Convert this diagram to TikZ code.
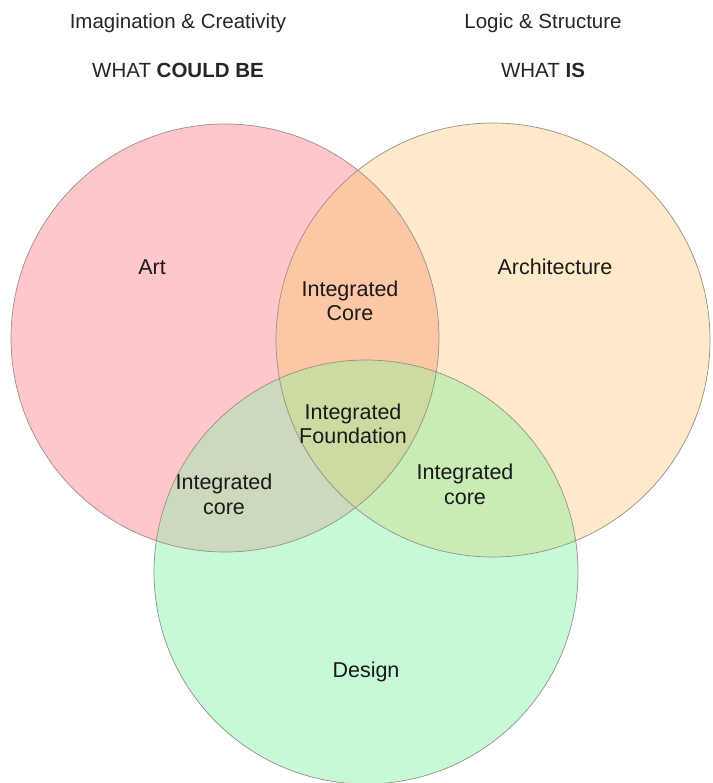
\documentclass[tikz,border=0pt]{standalone}
\usepackage{fontspec}
\setmainfont{Liberation Sans}
\definecolor{cred}{RGB}{255,198,204}
\definecolor{corange}{RGB}{254,234,202}
\definecolor{cgreen}{RGB}{198,250,214}
\definecolor{cro}{RGB}{253,198,165}
\definecolor{crg}{RGB}{205,217,188}
\definecolor{cog}{RGB}{200,236,180}
\definecolor{ccenter}{RGB}{205,219,162}
\definecolor{cline}{RGB}{150,145,135}
\begin{document}
\begin{tikzpicture}[x=1pt,y=-1pt,
  toptext/.style={font=\fontsize{20.5}{24}\selectfont, text=black!85, inner sep=0pt, anchor=base},
  setlabel/.style={font=\fontsize{21.5}{25}\selectfont, text=black!90, inner sep=0pt, anchor=base},
  lenslabel/.style={font=\fontsize{21.5}{24.5}\selectfont, text=black!90, inner sep=0pt, align=center, anchor=center},
  ring/.style={draw=cline, line width=0.7pt}]
\useasboundingbox (0,0) rectangle (712,783);
\fill[white] (0,0) rectangle (712,783);
% circle centres
\coordinate (cA) at (225,338);
\coordinate (cB) at (493,340);
\coordinate (cC) at (366,572);
\def\rA{214}\def\rB{217}\def\rC{212}
% single fills
\fill[cred] (cA) circle (\rA);
\fill[corange] (cB) circle (\rB);
\fill[cgreen] (cC) circle (\rC);
% pairwise overlaps
\begin{scope}
  \clip (cA) circle (\rA);
  \fill[cro] (cB) circle (\rB);
  \fill[crg] (cC) circle (\rC);
\end{scope}
\begin{scope}
  \clip (cB) circle (\rB);
  \fill[cog] (cC) circle (\rC);
\end{scope}
\begin{scope}
  \clip (cA) circle (\rA);
  \clip (cB) circle (\rB);
  \fill[ccenter] (cC) circle (\rC);
\end{scope}
% outlines
\draw[ring] (cA) circle (\rA);
\draw[ring] (cB) circle (\rB);
\draw[ring] (cC) circle (\rC);
% headings
\node[toptext] (h1) at (178,29) {Imagination \& Creativity};
\node[toptext] (h2) at (178,78) {WHAT \textbf{COULD BE}};
\node[toptext] (h3) at (543,29) {Logic \& Structure};
\node[toptext] (h4) at (543,78) {WHAT \textbf{IS}};
% set labels
\node[setlabel] (art) at (152,274) {Art};
\node[setlabel] (arch) at (555,274) {Architecture};
\node[setlabel] (design) at (366,677) {Design};
% lens labels
\node[lenslabel] (core) at (350,301) {Integrated\\Core};
\node[lenslabel] (found) at (353,424) {Integrated\\Foundation};
\node[lenslabel] (lcore) at (224,494.5) {Integrated\\core};
\node[lenslabel] (rcore) at (465,484.5) {Integrated\\core};
\end{tikzpicture}
\end{document}
